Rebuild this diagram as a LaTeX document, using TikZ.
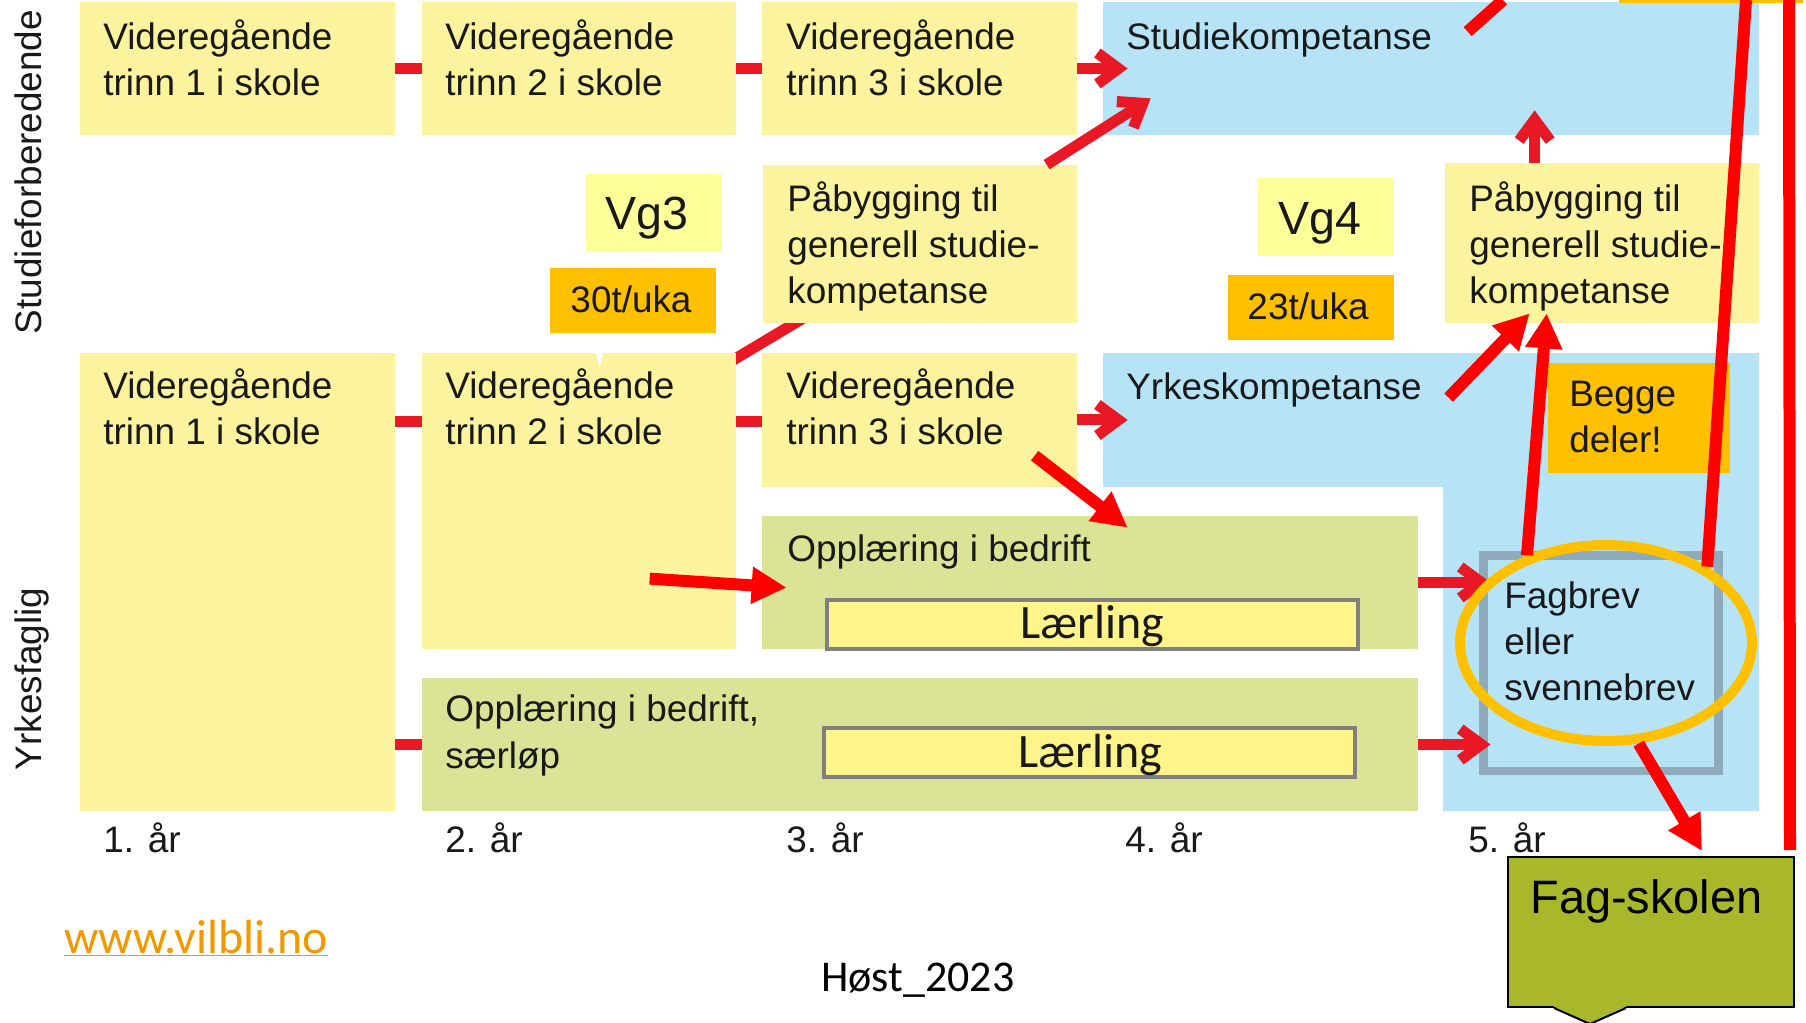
\documentclass[tikz,border=0pt]{standalone}
\usepackage{fontspec}
\setmainfont{Liberation Sans}
\newfontfamily\calfont{Carlito}
\usetikzlibrary{arrows.meta,fit,calc,shapes.geometric}
\definecolor{boxyel}{RGB}{251,243,157}
\definecolor{tagyel}{RGB}{255,255,153}
\definecolor{boxblue}{RGB}{182,228,246}
\definecolor{boxgreen}{RGB}{219,228,150}
\definecolor{lyel}{RGB}{255,244,138}
\definecolor{tagorange}{RGB}{255,192,0}
\definecolor{chartred}{RGB}{232,24,36}
\definecolor{framegray}{RGB}{143,170,186}
\definecolor{fagolive}{RGB}{168,184,42}
\definecolor{linkorange}{RGB}{242,152,0}
\pgfdeclarelayer{bg}
\pgfsetlayers{bg,main}
\tikzstyle{ybox}=[fill=boxyel, inner sep=0, draw=none]
\tikzstyle{bbox}=[fill=boxblue, inner sep=0, draw=none]
\tikzstyle{gbox}=[fill=boxgreen, inner sep=0, draw=none]
\tikzstyle{lbox}=[fill=lyel, draw=gray, line width=0.08cm, inner sep=0]
\tikzstyle{tag}=[fill=tagorange, inner sep=0]
\tikzstyle{vgtag}=[fill=tagyel, inner sep=0]
\tikzstyle{txt}=[inner sep=0, anchor=base west, align=left, text=black!90,
                 font=\fontsize{21}{26.2}\selectfont]
\tikzstyle{ctxt}=[txt, anchor=base]
\tikzstyle{link}=[draw=chartred, line width=0.22cm]
\tikzstyle{chev}=[link, -{Straight Barb[length=0.42cm,width=0.62cm]}]
\tikzstyle{redline}=[draw=red, line width=0.24cm]
\tikzstyle{redarr}=[redline, -{Triangle[length=0.7cm,width=0.7cm]}]

\begin{document}
\begin{tikzpicture}[x=0.02cm, y=-0.02cm]
\useasboundingbox (0,0) rectangle (1806,1023);
\clip (0,0) rectangle (1806,1023);
% side labels
\node[ctxt, rotate=90] (sflab) at (41,172) {Studieforberedende};
\node[ctxt, rotate=90] (yflab) at (41,679) {Yrkesfaglig};
% studieforberedende row
\node[ybox, fit={(80,2) (395,135)}] (sf1) {};
\node[ybox, fit={(422,2) (736,135)}] (sf2) {};
\node[ybox, fit={(762,2) (1077,135)}] (sf3) {};
\node[bbox, fit={(1103,2) (1759,135)}] (sk) {};
\node[ybox, fit={(763,165) (1077,323)}] (pb3) {};
\node[ybox, fit={(1445,163) (1759,323)}] (pb5) {};
% yrkesfaglig rows
\node[ybox, fit={(80,353) (395,811)}] (yf1) {};
\node[ybox, fit={(422,353) (736,649)}] (yf2) {};
\node[ybox, fit={(762,353) (1077,487)}] (yf3) {};
\node[bbox, fit={(1103,353) (1759,487)}] (yk) {};
\node[bbox, fit={(1443,353) (1759,811)}] (yk5) {};
\node[gbox, fit={(762,516) (1418,649)}] (oib) {};
\node[gbox, fit={(422,678) (1418,811)}] (sl) {};
\node[lbox, fit={(827,600) (1358,649)}] (lr1) {};
\node[lbox, fit={(824,728) (1355,777)}] (lr2) {};
\node[draw=framegray, line width=0.18cm, inner sep=0, fit={(1483,556) (1718,771)}] (fb) {};
% hidden connectors
\begin{pgfonlayer}{bg}
\draw[link] (sf1) -- (sf2);
\draw[link] (sf2) -- (sf3);
\draw[link] ($(yf1.north east)+(0,69)$) -- ($(yf2.north west)+(0,69)$);
\draw[link] ($(yf2.north east)+(0,69)$) -- ($(yf3.north west)+(0,69)$);
\draw[link] (yf1 |- sl) -- (sl);
\draw[link] ($(yf2.north east)+(-36,27)$) -- ($(pb3.south west)+(67,-21)$);
\end{pgfonlayer}
\draw[chev] (sf3.east) -- ($(sk.west)+(25,0)$);
\draw[chev] (yf3.east) -- ($(yk.west)+(25,0)$);
\draw[chev] ($(pb3.north west)+(284,0)$) -- ($(sk.south west)+(48,-37)$);
\draw[chev] ($(pb5.north west)+(90,0)$) -- ($(sk.south west)+(432,-25)$);
\draw[chev] (oib.east) -- ($(oib.east -| fb.west)+(12,0)$);
\draw[chev] (sl.east) -- ($(sl.east -| fb.west)+(12,0)$);
% tags
\node[vgtag, fit={(586,174) (722,252)}] (vg3) {};
\node[tag, fit={(550,268) (716,333)}] (t30) {};
\fill[white] ($(t30.south west)+(41,0)$) -- ($(t30.south west)+(50,34)$)
  -- ($(t30.south west)+(58,0)$) -- cycle;
\node[vgtag, fit={(1258,178) (1394,256)}] (vg4) {};
\node[tag, fit={(1228,275) (1394,340)}] (t23) {};
\node[tag, fit={(1548,363) (1730,473)}] (begge) {};
\fill[tagorange] (1619,0) rectangle (1803,3);
% box texts (base = last line)
\node[txt] (sf1t) at (103,96) {Videregående\\trinn 1 i skole};
\node[txt] (sf2t) at (445,96) {Videregående\\trinn 2 i skole};
\node[txt] (sf3t) at (786,96) {Videregående\\trinn 3 i skole};
\node[txt] (skt) at (1126,50) {Studiekompetanse};
\node[txt] (pb3t) at (787,304) {Påbygging til\\generell studie-\\kompetanse};
\node[txt] (pb5t) at (1469,304) {Påbygging til\\generell studie-\\kompetanse};
\node[txt] (yf1t) at (103,445) {Videregående\\trinn 1 i skole};
\node[txt] (yf2t) at (445,445) {Videregående\\trinn 2 i skole};
\node[txt] (yf3t) at (786,445) {Videregående\\trinn 3 i skole};
\node[txt] (ykt) at (1126,400) {Yrkeskompetanse};
\node[txt] (oibt) at (787,562) {Opplæring i bedrift};
\node[txt] (slt) at (445,768) {Opplæring i bedrift,\\særløp};
\node[txt] (fbt) at (1504,701) {Fagbrev\\eller\\svennebrev};
\node[txt] (begget) at (1569,453) {Begge\\deler!};
\node[ctxt, font=\calfont\fontsize{27.3}{32}\selectfont] (lr1t) at (1092,639) {Lærling};
\node[ctxt, font=\calfont\fontsize{27.3}{32}\selectfont] (lr2t) at (1090,767) {Lærling};
\node[ctxt, font=\fontsize{26.5}{30}\selectfont] (vg3t) at (647,230) {Vg3};
\node[ctxt, font=\fontsize{26.5}{30}\selectfont] (vg4t) at (1320,235) {Vg4};
\node[ctxt] (t30t) at (631,313) {30t/uka};
\node[ctxt] (t23t) at (1308,320) {23t/uka};
% years
\node[txt] (y1) at (103,852) {1. år};
\node[txt] (y2) at (445,852) {2. år};
\node[txt] (y3) at (786,852) {3. år};
\node[txt] (y4) at (1125,852) {4. år};
\node[txt] (y5) at (1468,852) {5. år};
% fagskolen
\node[fill=fagolive, draw=black, line width=0.04cm, inner sep=0,
      fit={(1508,857) (1794,1007)}] (fs) {};
\fill[fagolive] ($(fs.south west)+(46,-2)$) -- ($(fs.south west)+(83,16)$)
  -- ($(fs.south west)+(120,-2)$) -- cycle;
\draw[line width=0.04cm] ($(fs.south west)+(47,0)$) -- ($(fs.south west)+(83,16)$)
  -- ($(fs.south west)+(119,0)$);
\node[txt, text=black, font=\fontsize{26.7}{30}\selectfont] (fst) at (1530,913) {Fag-skolen};
% ring
\node[ellipse, draw=tagorange, line width=0.2cm, inner sep=0,
      minimum width=5.84cm, minimum height=3.92cm] (ring) at (1606,643) {};
% marks
\coordinate (topA) at (1746,0);
\coordinate (topB) at (1789,0);
\coordinate (topC) at (1503,0);
\draw[redarr] ($(yf2.north west)+(228,226)$) -- ($(oib.north west)+(25,72)$);
\draw[redarr] ($(yf3.north west)+(273,103)$) -- ($(oib.north west)+(366,12)$);
\draw[redarr] ($(yk.north west)+(346,45)$) -- ($(pb5.south west)+(85,-10)$);
\draw[redarr] (ring.132) -- ($(pb5.south west)+(102,-10)$);
\draw[redarr] (ring.288) -- ($(fs.north west)+(195,-5)$);
\draw[redline] (topA) -- (ring.37);
\draw[redline] (topB) -- ($(fs.north east)+(-5,-6)$);
\draw[redline] (topC) -- ($(sk.north west)+(365,30)$);
% footer
\node[txt, font=\calfont\fontsize{27.3}{32}\selectfont, text=linkorange] (web)
  at (64,953) {\underline{www.vilbli.no}};
\node[txt, text=black, font=\calfont\fontsize{25}{30}\selectfont] (host) at (821,991) {Høst\_2023};
\end{tikzpicture}
\end{document}
